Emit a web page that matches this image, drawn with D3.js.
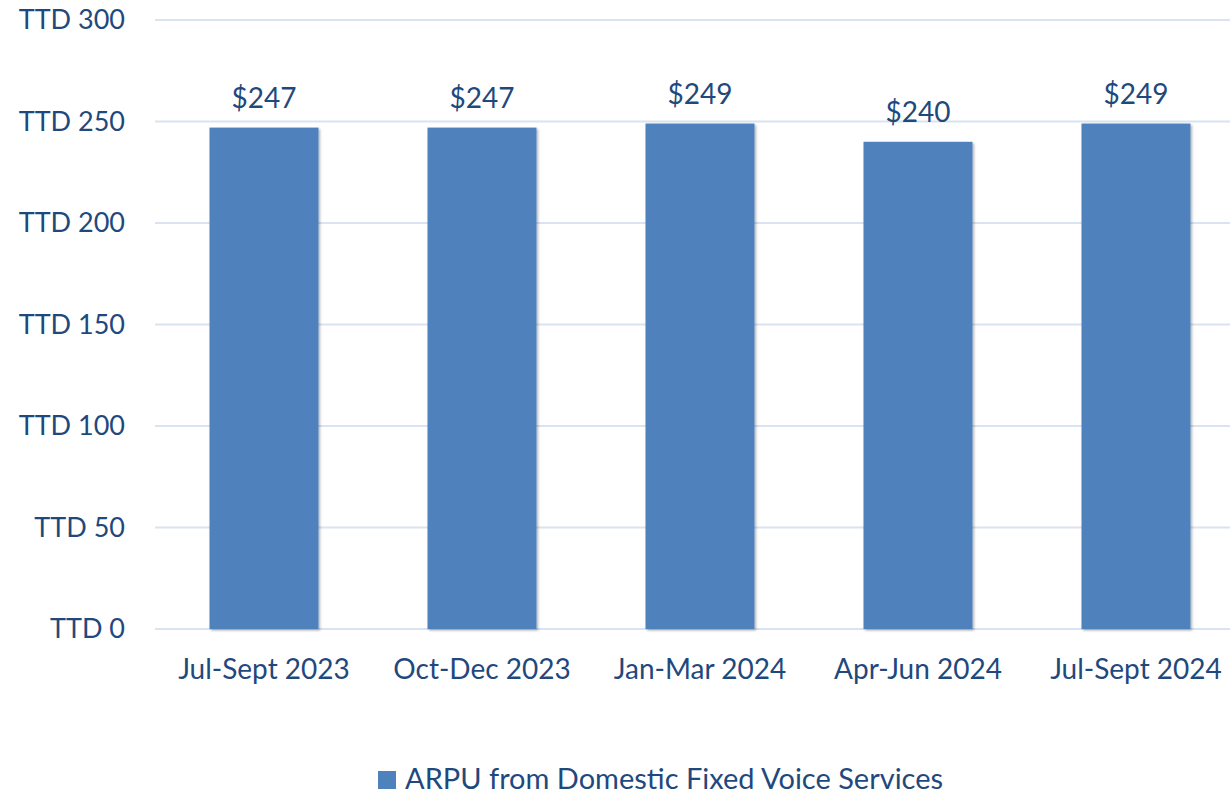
<!DOCTYPE html>
<html>
<head>
<meta charset="utf-8">
<script src="https://cdn.jsdelivr.net/npm/d3@7"></script>
<style>
  body { margin: 0; background: #fff; }
  text { font-family: Lato, "Open Sans", sans-serif; fill: #1f497d; }
</style>
</head>
<body>
<svg id="canvas" width="1230" height="796"></svg>
<script>
const quarters = ["Jul-Sept 2023", "Oct-Dec 2023", "Jan-Mar 2024", "Apr-Jun 2024", "Jul-Sept 2024"];
const arpu = [247, 247, 249, 240, 249];
const yTicks = [0, 50, 100, 150, 200, 250, 300];
const seriesName = "ARPU from Domestic Fixed Voice Services";

const BAR_COLOR = "#4f81bd";
const GRID_COLOR = "#d9e3f1";

var svg = d3.select("#canvas");

var x = d3.scaleBand()
    .domain(quarters)
    .range([155, 1245])
    .paddingInner(0.5)
    .paddingOuter(0.25);

var y = d3.scaleLinear()
    .domain([0, 300])
    .range([629, 20]);

// gridlines
svg.append("g").selectAll("line")
    .data(yTicks)
    .join("line")
    .attr("x1", 155)
    .attr("x2", 1230)
    .attr("y1", d => y(d))
    .attr("y2", d => y(d))
    .attr("stroke", GRID_COLOR)
    .attr("stroke-width", 2);

// y labels
svg.append("g").selectAll("text")
    .data(yTicks)
    .join("text")
    .attr("x", 125)
    .attr("y", d => y(d))
    .attr("dy", "0.35em")
    .attr("text-anchor", "end")
    .attr("font-size", 27)
    .text(d => "TTD " + d);

// shadow filter for the bars
var defs = svg.append("defs");
var f = defs.append("filter").attr("id", "shadow")
    .attr("x", "-10%").attr("y", "-10%").attr("width", "130%").attr("height", "130%");
f.append("feDropShadow")
    .attr("dx", 1.5).attr("dy", 1.5).attr("stdDeviation", 1.2)
    .attr("flood-color", "#000").attr("flood-opacity", 0.3);

// bars
svg.append("g").selectAll("rect")
    .data(arpu)
    .join("rect")
    .attr("x", (d, i) => x(quarters[i]))
    .attr("y", d => y(d))
    .attr("width", x.bandwidth())
    .attr("height", d => y(0) - y(d))
    .attr("fill", BAR_COLOR)
    .attr("filter", "url(#shadow)");

// value labels
svg.append("g").selectAll("text")
    .data(arpu)
    .join("text")
    .attr("x", (d, i) => x(quarters[i]) + x.bandwidth() / 2)
    .attr("y", d => y(d) - 20)
    .attr("text-anchor", "middle")
    .attr("font-size", 28)
    .text(d => "$" + d);

// x labels
svg.append("g").selectAll("text")
    .data(quarters)
    .join("text")
    .attr("x", d => x(d) + x.bandwidth() / 2)
    .attr("y", 679)
    .attr("text-anchor", "middle")
    .attr("font-size", 28)
    .text(d => d);

// legend
var legend = svg.append("g");
legend.append("rect")
    .attr("x", 378)
    .attr("y", 771)
    .attr("width", 18)
    .attr("height", 18)
    .attr("fill", BAR_COLOR);
legend.append("text")
    .attr("x", 405)
    .attr("y", 789)
    .attr("font-size", 29)
    .text(seriesName);
</script>
</body>
</html>
